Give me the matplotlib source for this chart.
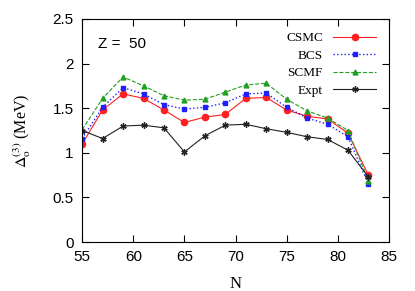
import matplotlib
matplotlib.use("Agg")
import matplotlib.pyplot as plt

N = [55, 57, 59, 61, 63, 65, 67, 69, 71, 73, 75, 77, 79, 81, 83]
csmc = [1.10, 1.48, 1.66, 1.61, 1.48, 1.34, 1.40, 1.43, 1.61, 1.62, 1.48, 1.41, 1.38, 1.22, 0.75]
bcs = [1.16, 1.51, 1.73, 1.66, 1.54, 1.49, 1.51, 1.56, 1.66, 1.67, 1.51, 1.39, 1.32, 1.18, 0.65]
scmf = [1.26, 1.61, 1.85, 1.75, 1.64, 1.59, 1.60, 1.68, 1.76, 1.78, 1.60, 1.47, 1.39, 1.25, 0.69]
expt = [1.25, 1.16, 1.30, 1.31, 1.28, 1.01, 1.19, 1.31, 1.32, 1.27, 1.23, 1.18, 1.15, 1.03, 0.73]

serif = "Liberation Serif"
sans = "Liberation Sans"
plt.rcParams['mathtext.fontset'] = 'stix'

fig = plt.figure(figsize=(4.15, 2.91), dpi=100)
ax = fig.add_axes([0.198, 0.168, 0.739, 0.767])

ax.plot(N, csmc, '-', color='#ff2020', lw=0.8, marker='o', ms=4.5, label='CSMC')
ax.plot(N, bcs, ':', color='#2020ff', lw=1.0, marker='s', ms=3.5, label='BCS')
ax.plot(N, scmf, '--', color='#20a020', lw=0.8, marker='^', ms=3.5, label='SCMF')
ax.plot(N, expt, '-', color='#222222', lw=0.8, marker=(6, 2, 0), ms=4.5, mew=1.0, label='Expt')

ax.set_xlim(55, 85)
ax.set_ylim(0, 2.5)
ax.set_xticks([55, 60, 65, 70, 75, 80, 85])
ax.set_yticks([0, 0.5, 1, 1.5, 2, 2.5])
ax.set_yticklabels(['0', '0.5', '1', '1.5', '2', '2.5'])
ax.tick_params(direction='in', top=True, right=True, length=5, width=0.8)
ax.tick_params(axis='x', pad=6)
ax.tick_params(axis='y', pad=6)
for lab in ax.get_xticklabels() + ax.get_yticklabels():
    lab.set_fontfamily(sans)
    lab.set_fontsize(11)

ax.set_xlabel('N', fontfamily=serif, fontsize=12, labelpad=8)
ax.set_ylabel(r'$\Delta_{\rm o}^{(3)}$ (MeV)', fontfamily=serif, fontsize=11.5, labelpad=14)

ax.text(0.05, 0.87, 'Z =  50', transform=ax.transAxes, fontfamily=sans, fontsize=11)

leg = ax.legend(loc='upper right', frameon=False, markerfirst=False,
                prop={'family': serif, 'size': 9.5}, handlelength=3.2,
                labelspacing=0.4, borderaxespad=0.6)
for t in leg.get_texts():
    t.set_ha('right')

fig.savefig('out.png', dpi=100)
